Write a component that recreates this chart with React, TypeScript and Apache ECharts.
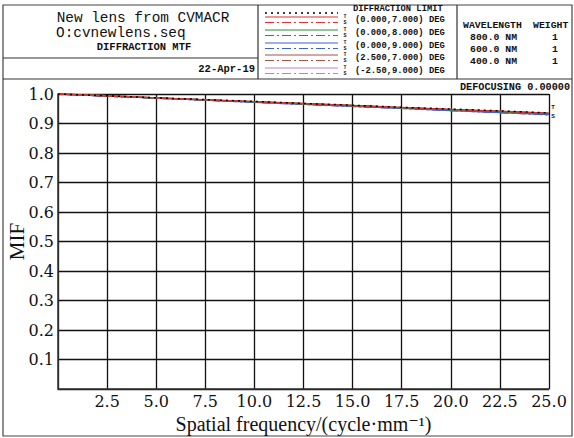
import React, { useEffect, useRef } from "react";
import * as echarts from "echarts";

const freq = [0, 2.5, 5, 7.5, 10, 12.5, 15, 17.5, 20, 22.5, 25];
const diffLimit = [1.0, 0.994, 0.987, 0.981, 0.975, 0.968, 0.962, 0.955, 0.949, 0.943, 0.936];
const f1T = [1.0, 0.994, 0.987, 0.981, 0.974, 0.968, 0.961, 0.955, 0.948, 0.942, 0.935];
const f1S = [1.0, 0.993, 0.987, 0.980, 0.974, 0.967, 0.961, 0.954, 0.948, 0.941, 0.934];
const f2T = [1.0, 0.994, 0.987, 0.980, 0.974, 0.967, 0.961, 0.954, 0.947, 0.941, 0.934];
const f2S = [1.0, 0.993, 0.986, 0.980, 0.973, 0.966, 0.960, 0.953, 0.946, 0.940, 0.933];
const f3T = [1.0, 0.993, 0.986, 0.979, 0.972, 0.965, 0.958, 0.951, 0.944, 0.937, 0.930];
const f3S = [1.0, 0.993, 0.986, 0.979, 0.972, 0.965, 0.958, 0.951, 0.944, 0.937, 0.929];
const f4T = [1.0, 0.994, 0.987, 0.980, 0.973, 0.967, 0.960, 0.953, 0.947, 0.940, 0.933];
const f4S = [1.0, 0.993, 0.986, 0.980, 0.973, 0.966, 0.959, 0.953, 0.946, 0.939, 0.932];
const f5T = [1.0, 0.993, 0.986, 0.979, 0.973, 0.966, 0.959, 0.952, 0.945, 0.938, 0.931];
const f5S = [1.0, 0.993, 0.986, 0.979, 0.972, 0.965, 0.958, 0.951, 0.944, 0.937, 0.930];

const fieldLabels = [
  "(0.000,7.000) DEG",
  "(0.000,8.000) DEG",
  "(0.000,9.000) DEG",
  "(2.500,7.000) DEG",
  "(-2.50,9.000) DEG",
];
const fieldColors = ["#e0312f", "#2e8b3a", "#3a63d0", "#a0554c", "#c77cc9"];
const fieldData = [
  [f1T, f1S],
  [f2T, f2S],
  [f3T, f3S],
  [f4T, f4S],
  [f5T, f5S],
];
const wavelengths = ["800.0 NM", "600.0 NM", "400.0 NM"];
const weights = ["1", "1", "1"];

const DASHDOT = [9, 3, 2, 3];
const MONO = "'Liberation Mono', 'DejaVu Sans Mono', monospace";
const SERIF = "'Liberation Serif', 'DejaVu Serif', serif";
const NUMSERIF = "'DejaVu Serif', 'Liberation Serif', serif";

export default function App() {
  const ref = useRef<HTMLDivElement>(null);
  useEffect(() => {
    document.body.style.margin = "0";
    if (!ref.current) return;
    const chart = echarts.init(ref.current, null, { renderer: "svg" });

    const pair = (arr: number[]) => freq.map((f, i) => [f, arr[i]]);
    const series: any[] = [];
    for (let k = fieldData.length - 1; k >= 0; k--) {
      series.push({
        type: "line",
        name: fieldLabels[k] + " T",
        data: pair(fieldData[k][0]),
        showSymbol: false,
        lineStyle: { color: fieldColors[k], width: 1.3, type: "solid" },
      });
      series.push({
        type: "line",
        name: fieldLabels[k] + " S",
        data: pair(fieldData[k][1]),
        showSymbol: false,
        lineStyle: { color: fieldColors[k], width: 1.3, type: DASHDOT },
      });
    }
    series.push({
      type: "line",
      name: "DIFFRACTION LIMIT",
      data: pair(diffLimit),
      showSymbol: false,
      lineStyle: { color: "#000", width: 1.5, type: [2, 4] },
    });

    const graphic: any[] = [];
    const line = (x1: number, y1: number, x2: number, y2: number, w = 1, color = "#333") =>
      graphic.push({
        type: "line",
        shape: { x1, y1, x2, y2 },
        style: { stroke: color, lineWidth: w },
        silent: true,
      });
    const text = (x: number, y: number, t: string, size: number, opts: any = {}) =>
      graphic.push({
        type: "text",
        x,
        y,
        silent: true,
        style: {
          text: t,
          fontSize: size,
          fontFamily: opts.family || MONO,
          fontWeight: opts.bold ? "bold" : "normal",
          fill: opts.color || "#111",
          align: opts.align || "left",
          verticalAlign: "middle",
          lineHeight: opts.lineHeight,
        },
      });

    // frame
    graphic.push({
      type: "rect",
      shape: { x: 3, y: 5, width: 569, height: 431 },
      style: { fill: "none", stroke: "#444", lineWidth: 1.2 },
      silent: true,
    });
    line(3, 79, 572, 79, 1.2);
    line(258, 5, 258, 79, 1.2);
    line(457, 5, 457, 79, 1.2);
    line(3, 58, 258, 58, 1.2);

    // title block
    text(143, 18, "New lens from CVMACR", 14.4, { align: "center" });
    text(56, 33, "O:cvnewlens.seq", 14.4);
    text(144, 47, "DIFFRACTION MTF", 10.5, { bold: true, align: "center" });
    text(255, 69, "22-Apr-19", 10.5, { bold: true, align: "right" });

    // legend
    line(265, 13, 338, 13, 1.3, "#000");
    graphic[graphic.length - 1].style.lineDash = [2, 4];
    text(353, 9, "DIFFRACTION LIMIT", 8.8, { bold: true });
    const rowY = [17, 30, 43, 55, 68];
    fieldLabels.forEach((lab, k) => {
      const y = rowY[k];
      line(265, y, 338, y, 1.2, fieldColors[k]);
      line(265, y + 5.5, 338, y + 5.5, 1.2, fieldColors[k]);
      graphic[graphic.length - 1].style.lineDash = DASHDOT;
      text(345, y + 3, "T\nS", 5, { bold: true, align: "center", lineHeight: 6.5 });
      text(355, y + 3, lab, 8.8, { bold: true });
    });

    // wavelengths
    text(463, 25, "WAVELENGTH", 9.8, { bold: true });
    text(533, 25, "WEIGHT", 9.8, { bold: true });
    const wy = [37, 49, 61];
    wavelengths.forEach((w, i) => {
      text(470, wy[i], w, 9.8, { bold: true });
      text(555, wy[i], weights[i], 9.8, { bold: true, align: "center" });
    });

    text(570, 87, "DEFOCUSING 0.00000", 10.2, { bold: true, align: "right" });
    text(553, 112, "T\nS", 6, { bold: true, align: "center", lineHeight: 9 });

    chart.setOption({
      animation: false,
      backgroundColor: "#fff",
      grid: {
        left: 58,
        top: 94,
        width: 491,
        height: 295,
        containLabel: false,
        outerBoundsMode: "none",
      },
      xAxis: {
        type: "value",
        min: 0,
        max: 25,
        interval: 2.5,
        name: "Spatial frequency/(cycle\u00b7mm\u207b\u00b9)",
        nameLocation: "middle",
        nameGap: 25,
        nameMoveOverlap: false,
        nameTextStyle: { fontFamily: SERIF, fontSize: 20, color: "#111" },
        axisLine: { lineStyle: { color: "#333", width: 1.5 } },
        axisTick: { show: false },
        axisLabel: {
          fontFamily: NUMSERIF,
          fontSize: 16,
          color: "#111",
          margin: 4,
          formatter: (v: number) => (v === 0 ? "" : v.toFixed(1)),
        },
        splitLine: { show: true, lineStyle: { color: "#111", width: 1.3 } },
      },
      yAxis: {
        type: "value",
        min: 0,
        max: 1,
        interval: 0.1,
        name: "MIF",
        nameLocation: "middle",
        nameGap: 31,
        nameMoveOverlap: false,
        nameRotate: 90,
        nameTextStyle: { fontFamily: SERIF, fontSize: 21, color: "#111" },
        axisLine: { show: true, lineStyle: { color: "#333", width: 1.5 } },
        axisTick: { show: false },
        axisLabel: {
          fontFamily: NUMSERIF,
          fontSize: 16,
          color: "#111",
          margin: 4,
          formatter: (v: number) => (v === 0 ? "" : v.toFixed(1)),
        },
        splitLine: { show: true, lineStyle: { color: "#111", width: 1.3 } },
      },
      series,
      graphic,
    });
    return () => chart.dispose();
  }, []);
  return <div ref={ref} style={{ width: 574, height: 438 }} />;
}
